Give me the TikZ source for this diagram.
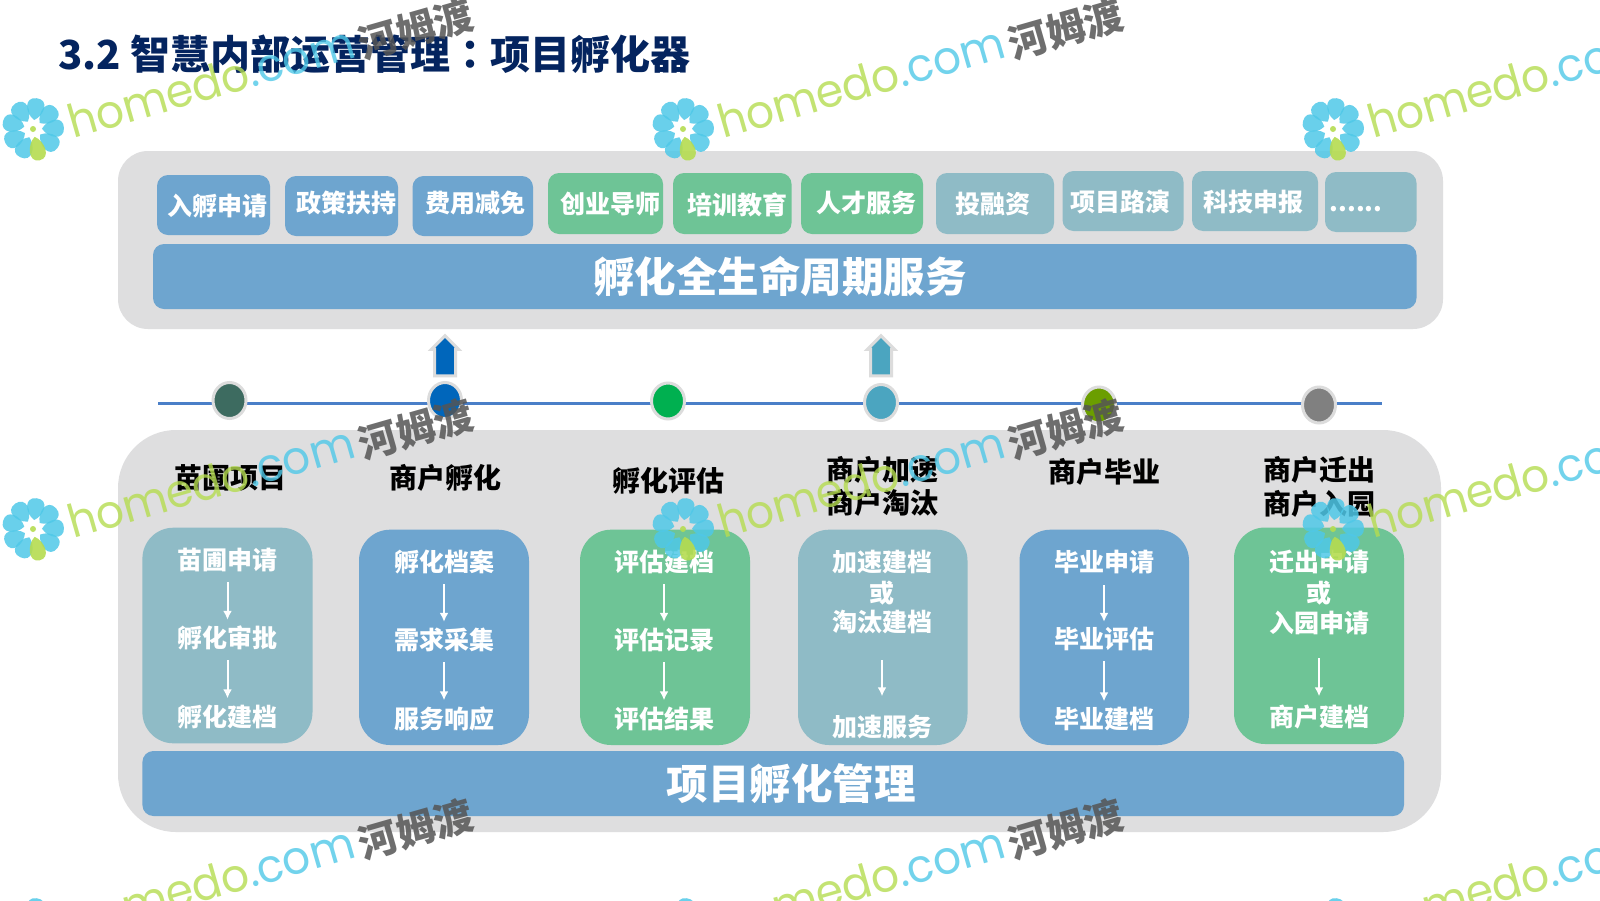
\documentclass[tikz,border=0pt]{standalone}
\usepackage{fontspec}
\setmainfont{Noto Sans CJK SC}
\newfontfamily\coloncjk{Noto Sans CJK TC}
\newfontfamily\wmfont{Poppins}[FakeStretch=0.955]
\usetikzlibrary{shapes.arrows,shapes.geometric,arrows.meta}
\definecolor{panelgrey}{HTML}{DEDEDF}
\definecolor{tileblue}{HTML}{6EA5CF}
\definecolor{tilegreen}{HTML}{6EC496}
\definecolor{tileteal}{HTML}{8FBBC6}
\definecolor{navy}{HTML}{04245F}
\definecolor{lineblue}{HTML}{4A7FC8}
\definecolor{ringgrey}{HTML}{DCDCDC}
\definecolor{wmcyan}{HTML}{4FC8E8}
\definecolor{wmgreen}{HTML}{B5DC50}
\definecolor{wmgrey}{HTML}{555555}
\definecolor{dotA}{RGB}{61,107,96}
\definecolor{dotB}{RGB}{0,102,187}
\definecolor{dotC}{RGB}{0,176,80}
\definecolor{dotD}{RGB}{75,165,192}
\definecolor{dotE}{RGB}{107,158,0}
\definecolor{dotF}{RGB}{128,128,128}
\tikzset{
  panel/.style={fill=panelgrey,rounded corners=#1},
  tile/.style={rounded corners=11pt},
  card/.style={rounded corners=31pt},
  bar/.style={fill=tileblue,rounded corners=11pt},
  tiletext/.style={font=\bfseries\fontsize{25}{25}\selectfont,text=white,inner sep=0pt},
  bartext/.style={font=\bfseries\fontsize{41.5}{41.5}\selectfont,text=white,inner sep=0pt},
  headtext/.style={font=\bfseries\fontsize{28}{28}\selectfont,text=black,inner sep=0pt},
  cardtext/.style={font=\bfseries\fontsize{25}{25}\selectfont,text=white,inner sep=0pt,minimum height=40pt},
  flow/.style={draw=white,line width=2pt,-{Latex[length=9pt,width=9pt]}},
  tdot/.style={ellipse,draw=ringgrey,line width=3pt,minimum width=33pt,minimum height=36pt,inner sep=0pt},
  uparrow/.style={single arrow,draw=ringgrey,line width=3pt,rotate=90,minimum height=40pt,minimum width=27pt,single arrow head extend=2pt,single arrow tip angle=90,inner sep=5.5pt},
  wmark/.pic={
    \foreach \a in {-114,-38,2,42,83,125,165,207}
      \fill[wmcyan,opacity=.85,rotate=\a] (9,0) .. controls (15,-10) and (31,-13) .. (31,0) .. controls (31,13) and (15,10) .. (9,0) -- cycle;
    \fill[wmgreen,opacity=.9,rotate=-78] (8,0) .. controls (14,-9) and (32,-12) .. (32,0) .. controls (32,12) and (14,9) .. (8,0) -- cycle;
    \fill[wmgreen,opacity=.9] (0,0) circle (3);
    \node[rotate=16,anchor=base west,inner sep=0pt,font=\wmfont\fontsize{46}{46}\selectfont,opacity=.8] (-t) at (40,10)
      {\textcolor{wmgreen}{homedo}\textcolor{wmcyan}{.com}};
    \node[rotate=16,inner sep=0pt,font=\bfseries\fontsize{39}{39}\selectfont,text=wmgrey,opacity=.85] (-c) at (383,-100) {河姆渡};
  }
}
\begin{document}
\begin{tikzpicture}[x=1pt,y=-1pt]
\useasboundingbox (0,0) rectangle (1600,900);
\clip (0,0) rectangle (1600,900);
\fill[white] (0,0) rectangle (1600,900);

% title
\node[anchor=base west,inner sep=0pt,font=\bfseries\fontsize{40}{40}\selectfont,text=navy] (title) at (58,69)
  {3.2 智慧内部运营管理{\coloncjk ：}项目孵化器};

% panels
\fill[panel=30pt] (118,151) rectangle (1443,329);
\fill[panel=58pt] (118,430) rectangle (1441,832);

% upper tiles
\fill[tile,tileblue] (157,175) rectangle (270,235);
\fill[tile,tileblue] (285,176) rectangle (398,236);
\fill[tile,tileblue] (412.5,176) rectangle (533,236);
\fill[tile,tilegreen] (548,173) rectangle (663,234);
\fill[tile,tilegreen] (673,173) rectangle (791.5,234);
\fill[tile,tilegreen] (801,173) rectangle (923,234);
\fill[tile,tileteal] (936,173) rectangle (1054,234);
\fill[tile,tileteal] (1062.5,171) rectangle (1183.5,231);
\fill[tile,tileteal] (1192,171) rectangle (1318,231);
\fill[tile,tileteal] (1325,172) rectangle (1416.5,232);
\node[tiletext] (u1) at (217.6,206) {入孵申请};
\node[tiletext] (u2) at (346.5,203) {政策扶持};
\node[tiletext] (u3) at (475.5,203) {费用减免};
\node[tiletext] (u4) at (610,203.5) {创业导师};
\node[tiletext] (u5) at (737,204.5) {培训教育};
\node[tiletext] (u6) at (866.5,203) {人才服务};
\node[tiletext] (u7) at (993,204.5) {投融资};
\node[tiletext] (u8) at (1120.5,202) {项目路演};
\node[tiletext] (u9) at (1253,202) {科技申报};
\node[tiletext,anchor=base] (u10) at (1356,211) {......};

% bars
\fill[bar] (153,244) rectangle (1416.5,309);
\node[bartext] (barup) at (780,276.5) {孵化全生命周期服务};
\fill[bar] (142.4,751) rectangle (1404,816);
\node[bartext] (bardown) at (791,783.5) {项目孵化管理};

% timeline
\coordinate (tl) at (158,403);
\coordinate (tr) at (1382,403);
\draw[lineblue,line width=3pt] (tl) -- (tr);
\node[tdot,fill=dotA] (d1) at (229.5,400.5) {};
\node[tdot,fill=dotB] (d2) at (445,400.5) {};
\node[tdot,fill=dotC] (d3) at (668,401) {};
\node[tdot,fill=dotD] (d4) at (881,402.5) {};
\node[tdot,fill=dotE] (d5) at (1099,405) {};
\node[tdot,fill=dotF] (d6) at (1319,405) {};

% block arrows
\node[uparrow,fill=dotB] (a1) at (445,361) {};
\node[uparrow,fill=dotD] (a2) at (881,361) {};

% headings
\node[headtext] (h1) at (230,477.5) {苗圃项目};
\node[headtext] (h2) at (445,477.5) {商户孵化};
\node[headtext] (h3) at (668,480.5) {孵化评估};
\node[headtext] (h4a) at (882.6,470) {商户加速};
\node[headtext] (h4b) at (882.6,502.5) {商户淘汰};
\node[headtext] (h5) at (1104,471.5) {商户毕业};
\node[headtext] (h6a) at (1319.4,470) {商户迁出};
\node[headtext] (h6b) at (1319.4,503.5) {商户入园};

% cards
\fill[card,tileteal] (142.4,527.7) rectangle (312.5,743.3);
\fill[card,tileblue] (359,529.7) rectangle (529,745);
\fill[card,tilegreen] (580,529.7) rectangle (750,745);
\fill[card,tileteal] (798,529.7) rectangle (967.5,745);
\fill[card,tileblue] (1019.5,529.7) rectangle (1189,745);
\fill[card,tilegreen] (1234,527.5) rectangle (1404,744);

\node[cardtext] (c1a) at (227.5,560) {苗圃申请};
\node[cardtext] (c1b) at (227.5,638) {孵化审批};
\node[cardtext] (c1c) at (227.5,716.5) {孵化建档};
\draw[flow,shorten <=2pt,shorten >=-2pt] (c1a) -- (c1b);
\draw[flow,shorten <=2pt,shorten >=-2pt] (c1b) -- (c1c);

\node[cardtext] (c2a) at (444,562) {孵化档案};
\node[cardtext] (c2b) at (444,640) {需求采集};
\node[cardtext] (c2c) at (444,718.5) {服务响应};
\draw[flow,shorten <=2pt,shorten >=-2pt] (c2a) -- (c2b);
\draw[flow,shorten <=2pt,shorten >=-2pt] (c2b) -- (c2c);

\node[cardtext] (c3a) at (664,562) {评估建档};
\node[cardtext] (c3b) at (664,640) {评估记录};
\node[cardtext] (c3c) at (664,718.5) {评估结果};
\draw[flow,shorten <=2pt,shorten >=-2pt] (c3a) -- (c3b);
\draw[flow,shorten <=2pt,shorten >=-2pt] (c3b) -- (c3c);

\node[cardtext] (c4a) at (882,562) {加速建档};
\node[cardtext] (c4o) at (882,593) {或};
\node[cardtext] (c4b) at (882,622.5) {淘汰建档};
\node[cardtext] (c4c) at (882,727) {加速服务};
\draw[flow,shorten <=17.5pt,shorten >=10.5pt] (c4b) -- (c4c);

\node[cardtext] (c5a) at (1104,562) {毕业申请};
\node[cardtext] (c5b) at (1104,639) {毕业评估};
\node[cardtext] (c5c) at (1104,718.5) {毕业建档};
\draw[flow,shorten <=3pt,shorten >=-3pt] (c5a) -- (c5b);
\draw[flow,shorten <=2pt,shorten >=-3pt] (c5b) -- (c5c);

\node[cardtext] (c6a) at (1319,562) {迁出申请};
\node[cardtext] (c6o) at (1319,593) {或};
\node[cardtext] (c6b) at (1319,622.5) {入园申请};
\node[cardtext] (c6c) at (1319,717.5) {商户建档};
\draw[flow,shorten <=15.5pt,shorten >=1pt] (c6b) -- (c6c);

% watermark tiles
\foreach \r/\yy in {1/129,2/529,3/929}
  \foreach \c/\xx in {1/33,2/683,3/1333}
    \pic (w\r\c) at (\xx,\yy) {wmark};
\end{tikzpicture}
\end{document}
